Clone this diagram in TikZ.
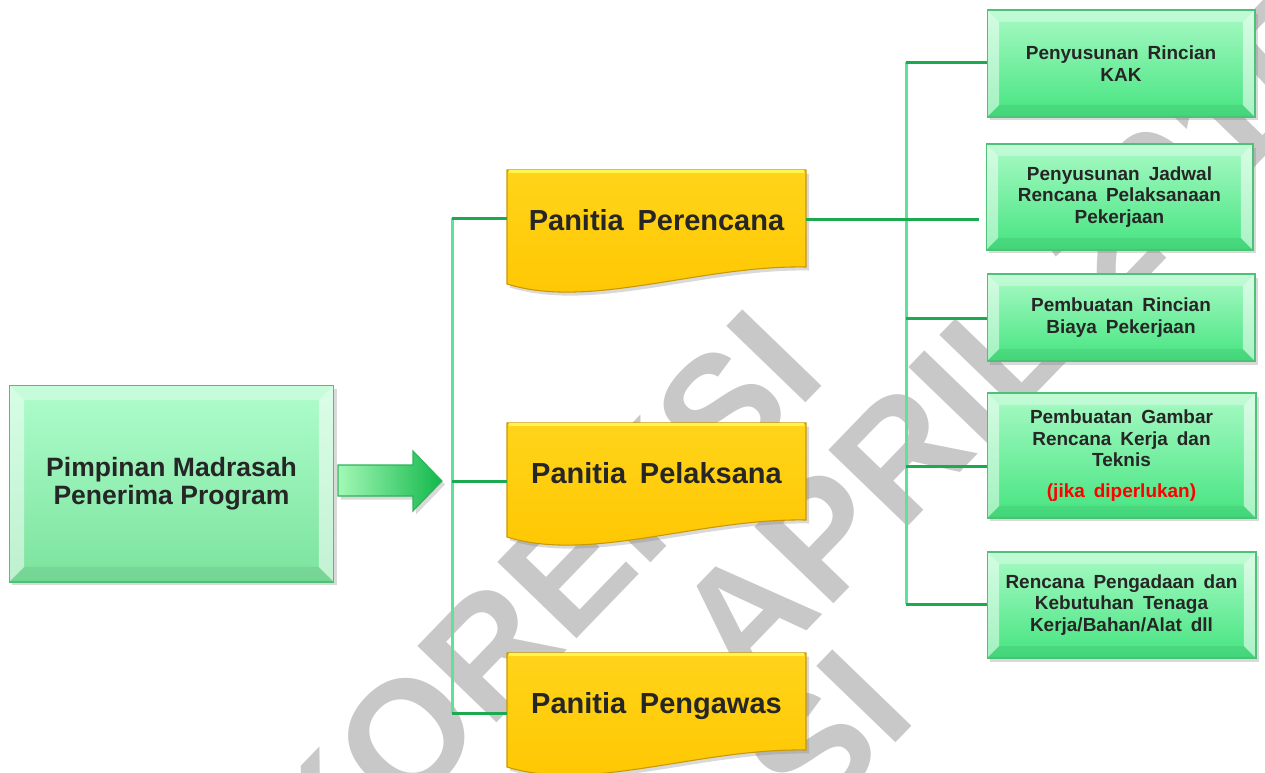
\documentclass[tikz,border=0pt]{standalone}
\usepackage{fontspec}
\setmainfont{Liberation Sans}
\newfontfamily\widefont{Liberation Sans}[WordSpace=1.7]
\usetikzlibrary{shadows}

\definecolor{boxline}{HTML}{4CC276}
\definecolor{greentop}{HTML}{A9FAC5}
\definecolor{greenbot}{HTML}{45E480}
\definecolor{pimtop}{HTML}{AFFDCC}
\definecolor{pimbot}{HTML}{7BE39D}
\definecolor{textdark}{HTML}{262626}
\definecolor{jikared}{HTML}{FF0000}
\definecolor{trunkgreen}{HTML}{5EE29A}
\definecolor{branchgreen}{HTML}{1BAA50}
\definecolor{arrowleft}{HTML}{A3F8B5}
\definecolor{arrowright}{HTML}{12B84C}
\definecolor{arrowline}{HTML}{2CB35B}
\definecolor{paneltop}{HTML}{FFD41A}
\definecolor{panelbot}{HTML}{FFC600}
\definecolor{panelline}{HTML}{C99700}
\definecolor{wmgray}{HTML}{C8C8C8}

\tikzset{
  bevel/.style={path picture={
    \path (path picture bounding box.north west) coordinate (nw)
          (path picture bounding box.north east) coordinate (ne)
          (path picture bounding box.south west) coordinate (sw)
          (path picture bounding box.south east) coordinate (se);
    \fill[white,opacity=.3] (nw) -- (ne) -- ([shift={(-#1,#1)}]ne) -- ([shift={(#1,#1)}]nw) -- cycle;
    \fill[white,opacity=.5] (nw) -- (sw) -- ([shift={(#1,-#1)}]sw) -- ([shift={(#1,#1)}]nw) -- cycle;
    \fill[white,opacity=.55] (ne) -- (se) -- ([shift={(-#1,-#1)}]se) -- ([shift={(-#1,#1)}]ne) -- cycle;
    \fill[black,opacity=.06] (sw) -- (se) -- ([shift={(-#1,-#1)}]se) -- ([shift={(#1,-#1)}]sw) -- cycle;
  }},
  boxshadow/.style={drop shadow={shadow xshift=.06cm, shadow yshift=-.07cm, opacity=.3}},
  taskbox/.style={draw=boxline, line width=.6pt, top color=greentop, bottom color=greenbot,
    bevel=12, boxshadow, inner sep=0pt, align=center, text=textdark,
    font=\widefont\bfseries\fontsize{10.8}{12.3}\selectfont, minimum width=5.36cm},
  headbox/.style={draw=boxline, line width=.6pt, top color=pimtop, bottom color=pimbot,
    bevel=15, boxshadow, inner sep=0pt, align=center, text=textdark,
    font=\bfseries\fontsize{15.1}{15.9}\selectfont, minimum width=6.5cm, minimum height=3.94cm},
  panel/.style={draw=panelline, line width=.6pt, top color=paneltop, bottom color=panelbot, boxshadow},
  paneltop/.style={draw=yellow!70!white, line width=1.2pt},
  paneltext/.style={inner sep=0pt, anchor=base, minimum width=5.98cm, text=textdark,
    font=\widefont\bfseries\fontsize{16.5}{18}\selectfont},
  trunk/.style={draw=trunkgreen, line width=.06cm},
  branch/.style={draw=branchgreen, line width=.06cm},
  bigarrow/.style={draw=arrowline, line width=.6pt, left color=arrowleft, right color=arrowright, boxshadow},
  watermark/.style={inner sep=0pt, anchor=base, rotate=46, text=wmgray,
    font=\bfseries\fontsize{91}{91}\selectfont}
}

\begin{document}
\begin{tikzpicture}[x=0.02cm, y=-0.02cm]
  \useasboundingbox (0,0) rectangle (1265,772);

  % watermark behind everything
  \node[watermark] (wm1) at (576,640.5) {KOREKSI};
  \node[watermark] (wm2) at (1051.5,378) {APRIL 2015};
  \node[watermark] (wm3) at (867,773) {SI};

  % left box and arrow
  \node[headbox] (pimpinan) at (171.5,483.5) {Pimpinan Madrasah\\Penerima Program};
  \draw[bigarrow] (338,465) -- (413,465) -- (413,451) -- (442,481) -- (413,511) -- (413,496) -- (338,496) -- cycle;

  % panitia
  \foreach \t in {170,423,653} {
    \draw[panel] (507,\t) -- (806,\t) -- (806,\t+97) .. controls (700,\t+95) and (590,\t+140) .. (507,\t+114) -- cycle;
    \draw[paneltop] (509,\t+1.5) -- (804,\t+1.5);
  }
  \node[paneltext] (perencana) at (656.5,230) {Panitia Perencana};
  \node[paneltext] (pelaksana) at (656.5,483) {Panitia Pelaksana};
  \node[paneltext] (pengawas) at (656.5,713) {Panitia Pengawas};

  % tasks
  \node[taskbox, minimum height=2.14cm] (k1) at (1121,63.5) {Penyusunan Rincian\\KAK};
  \node[taskbox, minimum height=2.12cm, minimum width=5.34cm] (k2) at (1119.5,197) {Penyusunan Jadwal\\Rencana Pelaksanaan\\Pekerjaan};
  \node[taskbox, minimum height=1.74cm] (k3) at (1121,317.5) {Pembuatan Rincian\\Biaya Pekerjaan};
  \node[taskbox, minimum height=2.5cm, minimum width=5.38cm] (k4) at (1121.5,455.5) {Pembuatan Gambar\\Rencana Kerja dan\\Teknis\\[5pt]\textcolor{jikared}{(jika diperlukan)}};
  \node[taskbox, minimum height=2.12cm, minimum width=5.38cm] (k5) at (1121.5,605) {Rencana Pengadaan dan\\Kebutuhan Tenaga\\Kerja/Bahan/Alat dll};

  % connectors left
  \coordinate (lv1) at (452,218);
  \coordinate (lv2) at (452,481);
  \coordinate (lv3) at (452,713);
  \draw[trunk] (lv1) -- (lv3);
  \draw[branch] (lv1) -- (lv1 -| perencana.west);
  \draw[branch] (lv2) -- (lv2 -| pelaksana.west);
  \draw[branch] (lv3) -- (lv3 -| pengawas.west);

  % connectors right
  \coordinate (rv1) at (906,62);
  \coordinate (rv3) at (906,318);
  \coordinate (rv4) at (906,466);
  \coordinate (rv5) at (906,604);
  \coordinate (k2in) at (979,218);
  \draw[trunk] (rv1) -- (rv5);
  \draw[branch] (rv1) -- (rv1 -| k1.west);
  \draw[branch] (perencana.east) -- (perencana.east -| k2in);
  \draw[branch] (rv3) -- (rv3 -| k3.west);
  \draw[branch] (rv4) -- (rv4 -| k4.west);
  \draw[branch] (rv5) -- (rv5 -| k5.west);
\end{tikzpicture}
\end{document}
